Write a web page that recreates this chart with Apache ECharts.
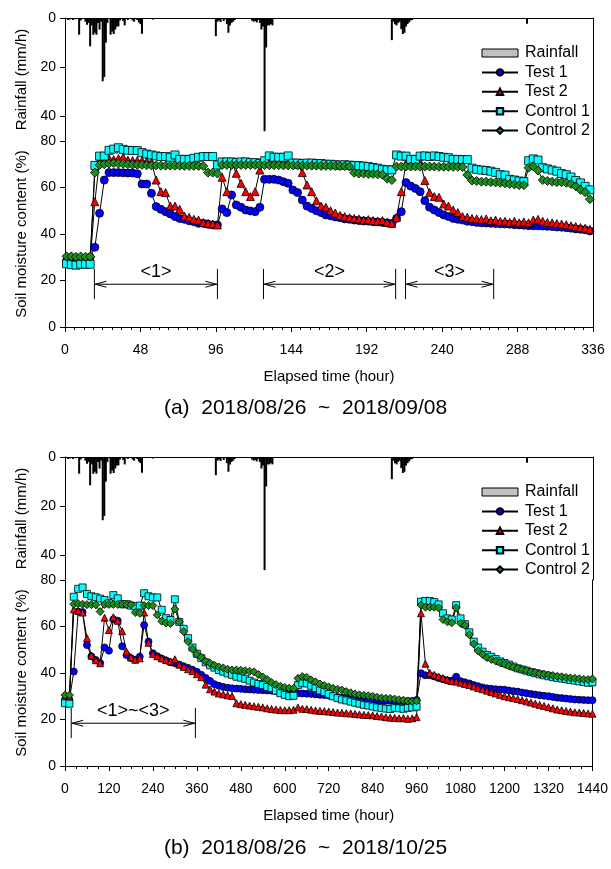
<!DOCTYPE html>
<html>
<head>
<meta charset="utf-8">
<script src="https://cdn.jsdelivr.net/npm/echarts@6/dist/echarts.min.js"></script>
<style>
  html, body { margin: 0; padding: 0; background: #fff; }
  #main { width: 611px; height: 869px; }
</style>
</head>
<body>
<div id="main"></div>
<script>
// rainfall (hourly, mm/h) - same trace drawn on top of both panels
var rainHour = [2, 3, 5, 7, 9, 10, 13, 14, 15, 16, 17, 18, 19, 20, 21, 22, 23, 24, 25, 26, 27, 29, 30, 31, 32, 33, 34, 35, 37, 38, 40, 43, 44, 46, 47, 48, 49, 56,
  96, 97, 98, 99, 101, 103, 104, 105, 106, 107, 108, 119, 120, 121, 122, 123, 124, 125, 126, 127, 128, 129, 130, 131, 132,
  208, 209, 210, 211, 212, 213, 214, 215, 216, 217, 218, 219, 220, 221, 294];
var rainMm = [0.8, 0.6, 0.8, 0.5, 6.8, 1.0, 1.5, 2.7, 2.0, 11.5, 3.0, 6.8, 6.0, 6.8, 2.0, 4.7, 1.5, 25.7, 24.0, 10.0, 2.0, 6.8, 5.5, 6.5, 4.7, 3.5, 3.4, 1.0, 1.2, 3.0, 0.8, 1.0, 1.5, 0.8, 1.8, 2.5, 6.4, 0.6,
  7.4, 1.5, 1.0, 1.6, 1.2, 2.5, 6.0, 3.0, 2.0, 1.5, 0.8, 1.0, 1.5, 1.2, 1.8, 0.8, 2.0, 4.7, 3.5, 46.0, 12.0, 3.0, 3.0, 2.5, 3.0,
  9.0, 1.5, 2.5, 3.0, 2.0, 1.5, 4.5, 6.5, 6.0, 3.5, 2.5, 1.8, 1.0, 0.8, 2.3];

// panel (a): readings every 3 h starting at hour 1
var startA = 1, stepA = 3;
var test1A = [28.5, 28.5, 28.3, 28.5, 28.8, 30.0, 34.3, 48.9, 63.2, 66.4, 66.4, 66.4,
  66.3, 66.2, 66.2, 65.9, 61.5, 61.5, 57.5, 51.8, 50.6, 49.6, 48.6, 47.5,
  46.7, 46.3, 45.7, 45.3, 44.6, 44.6, 44.2, 43.9, 43.9, 50.8, 49.2, 56.8,
  52.5, 51.5, 50.3, 49.9, 49.6, 51.5, 63.5, 63.5, 63.5, 63.2, 62.5, 61.8,
  58.9, 57.8, 54.6, 52.0, 51.0, 50.0, 49.2, 48.2, 47.8, 47.3, 47.0, 46.5,
  46.3, 46.0, 45.8, 45.6, 45.5, 45.3, 45.2, 45.0, 44.8, 44.5, 46.7, 49.6,
  62.1, 60.6, 59.6, 58.2, 54.3, 51.5, 50.3, 49.2, 48.2, 47.5, 46.7, 46.3,
  46.0, 45.5, 45.3, 45.0, 44.8, 44.7, 44.6, 44.5, 44.4, 44.3, 44.2, 44.0,
  43.9, 43.8, 43.6, 43.5, 43.5, 43.4, 43.3, 43.2, 43.0, 42.9, 42.7, 42.5,
  42.2, 42.0, 41.8, 41.3];
var test2A = [28.0, 28.0, 28.2, 28.2, 28.3, 28.5, 53.9, 71.5, 72.3, 72.5, 72.0, 72.5,
  73.0, 71.8, 71.6, 71.6, 71.5, 71.3, 71.0, 63.2, 58.2, 57.8, 52.0, 52.0,
  50.6, 47.7, 47.2, 46.3, 46.0, 44.9, 44.6, 44.3, 43.9, 64.4, 58.2, 70.7,
  66.1, 61.8, 58.2, 56.1, 58.2, 67.5, 70.5, 71.0, 71.0, 71.0, 70.8, 70.5,
  70.5, 70.0, 66.4, 61.1, 58.2, 54.3, 52.0, 51.5, 50.0, 49.0, 48.0, 47.5,
  47.0, 46.7, 46.5, 46.0, 46.2, 45.8, 45.5, 45.8, 45.0, 44.6, 47.2, 58.2,
  70.4, 71.0, 71.0, 71.0, 63.0, 57.8, 56.1, 55.8, 52.9, 52.0, 50.3, 49.2,
  47.5, 47.2, 46.7, 46.5, 46.2, 46.5, 45.7, 46.0, 45.4, 45.5, 45.0, 45.5,
  44.8, 45.2, 44.8, 46.0, 46.3, 45.5, 45.0, 44.8, 44.5, 44.3, 44.0, 43.5,
  43.2, 42.8, 42.5, 42.0];
var control1A = [27.2, 26.8, 26.6, 27.0, 27.0, 27.0, 69.5, 73.5, 73.5, 76.0, 76.5, 77.1,
  76.4, 76.0, 75.9, 75.9, 75.0, 74.4, 74.0, 73.6, 73.3, 73.3, 73.0, 74.0,
  72.1, 72.1, 72.1, 72.6, 73.0, 73.3, 73.3, 73.3, 69.7, 71.0, 71.0, 71.0,
  70.7, 71.0, 71.0, 70.7, 70.7, 70.3, 71.5, 73.6, 73.0, 73.0, 73.0, 73.6,
  70.5, 70.5, 70.3, 70.5, 70.5, 70.3, 70.3, 70.0, 70.0, 69.8, 69.6, 69.8,
  69.6, 69.5, 69.4, 69.2, 69.0, 68.6, 68.3, 67.8, 67.6, 67.6, 74.0, 73.5,
  73.5, 72.1, 72.1, 73.5, 73.6, 73.3, 73.6, 73.3, 73.0, 72.8, 72.1, 72.1,
  72.0, 72.0, 68.3, 67.8, 67.5, 67.3, 67.0, 66.5, 65.5, 65.3, 63.5, 63.2,
  62.8, 62.5, 71.5, 72.3, 71.8, 68.5, 68.0, 67.5, 67.0, 66.0, 65.5, 64.5,
  63.0, 62.0, 60.5, 59.0];
var control2A = [30.4, 30.4, 30.2, 30.3, 30.2, 30.3, 66.4, 69.7, 70.0, 70.3, 70.5, 70.3,
  70.2, 70.0, 69.8, 69.8, 69.7, 69.6, 69.5, 69.5, 69.4, 69.4, 69.4, 69.4,
  69.4, 69.3, 69.3, 69.3, 69.3, 69.2, 66.4, 66.4, 66.0, 69.7, 69.7, 69.7,
  69.7, 69.7, 69.7, 69.7, 69.7, 69.7, 69.6, 69.6, 69.6, 69.6, 69.5, 69.5,
  69.5, 69.5, 69.4, 69.4, 69.4, 69.4, 69.3, 69.3, 69.3, 69.3, 69.2, 69.2,
  69.0, 66.3, 66.0, 66.0, 65.8, 65.8, 65.7, 65.5, 63.8, 63.2, 69.0, 69.0,
  69.0, 69.0, 69.0, 69.0, 69.0, 69.0, 69.0, 68.9, 68.9, 68.9, 68.9, 68.9,
  68.8, 65.4, 63.0, 62.8, 62.5, 62.5, 62.3, 62.2, 62.0, 61.8, 61.5, 61.3,
  61.0, 61.0, 68.5, 69.0, 67.3, 63.2, 62.8, 62.5, 62.3, 62.3, 62.0, 61.5,
  60.5, 59.0, 58.0, 55.0];

// panel (b): readings every 12 h starting at hour 0
var startB = 0, stepB = 12;
var test1B = [28.5, 28.5, 40.6, 66.4, 66.2, 52.0, 47.2, 45.6, 44.3, 51.0, 49.6, 63.1,
  62.5, 51.5, 47.7, 46.4, 45.7, 47.0, 60.6, 53.5, 48.5, 47.2, 46.2, 45.4,
  44.6, 44.2, 43.6, 42.9, 42.2, 41.4, 40.5, 39.2, 37.9, 36.6, 35.2, 34.5,
  34.0, 33.7, 33.4, 33.3, 33.2, 33.0, 32.9, 32.8, 32.7, 32.6, 32.5, 32.4,
  32.2, 31.8, 31.6, 31.4, 31.3, 31.3, 31.2, 31.1, 31.0, 30.8, 30.6, 30.5,
  30.3, 30.0, 29.7, 29.5, 29.3, 29.1, 28.9, 28.7, 28.6, 28.5, 28.4, 28.3,
  28.2, 28.1, 28.1, 28.0, 28.0, 27.9, 27.9, 28.0, 28.4, 39.9, 39.0, 39.0,
  38.5, 37.8, 37.3, 36.8, 36.7, 38.4, 36.5, 36.0, 35.5, 34.8, 34.3, 33.8,
  33.4, 33.2, 33.0, 32.9, 32.8, 32.5, 32.2, 32.0, 31.6, 31.3, 31.0, 30.7,
  30.4, 30.2, 30.0, 29.7, 29.4, 29.2, 29.0, 28.8, 28.6, 28.5, 28.4, 28.3,
  28.3];
var test2B = [29.5, 29.5, 67.4, 66.8, 66.0, 55.0, 47.5, 45.5, 44.2, 63.8, 58.5, 64.0,
  62.5, 58.0, 49.2, 46.8, 45.7, 46.3, 66.0, 53.0, 48.2, 47.2, 46.3, 45.6,
  45.0, 45.9, 43.6, 42.6, 41.6, 40.8, 39.5, 38.2, 35.0, 33.0, 32.0, 31.2,
  30.8, 30.4, 30.1, 27.0, 26.6, 26.3, 26.0, 25.7, 25.5, 25.2, 24.8, 24.5,
  24.3, 24.1, 24.0, 24.0, 24.2, 25.2, 24.6, 24.5, 24.2, 23.9, 23.7, 23.6,
  23.4, 23.2, 23.0, 22.9, 22.7, 22.6, 22.4, 22.2, 22.0, 21.9, 21.8, 21.5,
  21.3, 21.0, 20.8, 20.7, 20.5, 20.6, 20.3, 20.5, 21.0, 65.7, 44.0, 40.0,
  39.2, 38.5, 37.8, 37.2, 36.5, 36.3, 35.8, 35.3, 34.8, 34.2, 33.6, 33.0,
  32.4, 31.8, 31.2, 30.6, 30.0, 29.6, 29.2, 28.8, 28.3, 27.8, 27.3, 26.8,
  26.3, 25.8, 25.3, 24.8, 24.3, 24.0, 23.7, 23.4, 23.1, 23.0, 22.8, 22.6,
  22.5];
var control1B = [27.0, 26.8, 72.8, 76.2, 76.8, 74.0, 73.0, 72.6, 72.0, 71.4, 70.0, 73.5,
  72.1, 69.6, 69.6, 69.0, 68.7, 69.0, 74.3, 73.0, 72.5, 72.5, 67.2, 63.6,
  62.8, 71.7, 62.0, 59.0, 55.0, 51.0, 48.3, 46.4, 44.6, 43.3, 42.3, 41.3,
  40.6, 39.8, 39.2, 38.4, 38.0, 37.5, 36.7, 35.9, 35.3, 34.8, 34.0, 33.5,
  32.4, 31.3, 30.6, 30.0, 30.2, 34.8, 35.6, 35.5, 34.5, 33.5, 32.5, 31.8,
  31.0, 30.0, 29.2, 28.6, 28.2, 27.7, 27.2, 26.8, 26.3, 26.0, 25.6, 25.2,
  25.0, 24.7, 24.5, 25.0, 24.8, 24.6, 25.0, 25.2, 25.5, 70.7, 71.0, 71.0,
  70.5, 69.5, 65.7, 63.5, 63.0, 69.2, 63.5, 61.0, 57.5, 53.5, 51.0, 49.2,
  47.8, 47.0, 46.0, 45.0, 44.3, 43.6, 42.8, 42.0, 41.5, 41.0, 40.4, 39.9,
  39.4, 39.0, 38.6, 38.2, 37.9, 37.6, 37.3, 37.0, 36.7, 36.4, 36.1, 35.8,
  36.0];
var control2B = [30.5, 30.5, 69.6, 69.8, 69.6, 69.4, 69.4, 69.3, 66.4, 69.5, 69.5, 69.5,
  69.5, 69.5, 69.4, 69.4, 66.0, 65.7, 69.0, 69.0, 69.0, 65.0, 62.3, 61.5,
  61.3, 67.5, 62.0, 57.8, 53.5, 50.3, 48.0, 46.8, 45.0, 44.2, 43.3, 42.6,
  42.2, 41.6, 41.3, 41.3, 41.2, 41.0, 40.7, 40.5, 39.4, 38.3, 37.2, 35.9,
  35.0, 34.3, 33.8, 33.5, 33.4, 37.7, 38.5, 38.1, 37.0, 36.2, 35.3, 34.6,
  34.0, 33.4, 33.0, 32.7, 32.0, 31.5, 31.0, 30.6, 30.4, 30.2, 30.0, 29.6,
  29.3, 29.1, 29.0, 28.8, 28.5, 28.3, 28.0, 27.8, 28.0, 69.2, 68.3, 68.3,
  68.3, 68.0, 63.0, 62.0, 61.6, 68.0, 61.4, 60.5, 56.5, 52.5, 49.5, 48.0,
  46.6, 45.8, 45.2, 44.4, 43.8, 43.0, 42.5, 42.0, 41.5, 41.0, 40.5, 40.2,
  39.8, 39.5, 39.2, 38.9, 38.6, 38.4, 38.1, 37.9, 37.7, 37.5, 37.3, 37.2,
  37.5];

// analysis periods marked under the curves (hours)
var spanStartA = [18.7, 126.3, 216.7];
var spanEndA = [97, 210.4, 272.8];
var spanLabelA = ['<1>', '<2>', '<3>'];
var spanStartB = [17];
var spanEndB = [356];
var spanLabelB = ['<1>~<3>'];
var arrowLevel = 18.4, tickTop = 25, tickBottom = 12, labelLevel = 23.8;

var seriesNames = ['Rainfall', 'Test 1', 'Test 2', 'Control 1', 'Control 2'];
var captionA = '(a)  2018/08/26  ~  2018/09/08';
var captionB = '(b)  2018/08/26  ~  2018/10/25';

var FONT = '"Liberation Sans", Arial, sans-serif';
var chart = echarts.init(document.getElementById('main'));

function pairs(start, step, vals) {
  return vals.map(function (v, i) { return [start + step * i, v]; });
}
function plain(v) { return String(v); }

function rainX(gi) {
  return {
    gridIndex: gi, type: 'value', min: 0, max: 336, position: 'top',
    axisLine: { show: true, lineStyle: { color: '#000', width: 1 } },
    axisTick: { show: false }, axisLabel: { show: false }, splitLine: { show: false }
  };
}
function timeX(gi, max, interval, minorSplit) {
  return {
    gridIndex: gi, type: 'value', min: 0, max: max, interval: interval,
    name: 'Elapsed time (hour)', nameLocation: 'middle', nameGap: 42,
    nameTextStyle: { color: '#000', fontSize: 15, fontFamily: FONT },
    axisLine: { show: true, lineStyle: { color: '#000', width: 1 } },
    axisTick: { show: true, length: 5, lineStyle: { color: '#000' } },
    minorTick: { show: true, splitNumber: minorSplit, length: 3, lineStyle: { color: '#000' } },
    axisLabel: { color: '#000', fontSize: 14, fontFamily: FONT, margin: 16, formatter: plain },
    splitLine: { show: false }
  };
}
function rainY(gi) {
  return {
    gridIndex: gi, type: 'value', min: 0, max: 50, interval: 20, inverse: true,
    name: 'Rainfall (mm/h)', nameLocation: 'middle', nameGap: 36,
    nameTextStyle: { color: '#000', fontSize: 15, fontFamily: FONT },
    axisLine: { show: true, lineStyle: { color: '#000', width: 1 } },
    axisTick: { show: true, length: 5, lineStyle: { color: '#000' } },
    axisLabel: { color: '#000', fontSize: 14, fontFamily: FONT, margin: 9, showMaxLabel: false },
    splitLine: { show: false }
  };
}
function moistY(gi) {
  return {
    gridIndex: gi, type: 'value', min: 0, max: 80, interval: 20,
    name: 'Soil moisture content (%)', nameLocation: 'middle', nameGap: 36,
    nameTextStyle: { color: '#000', fontSize: 15, fontFamily: FONT },
    axisLine: { show: true, lineStyle: { color: '#000', width: 1 } },
    axisTick: { show: true, length: 5, lineStyle: { color: '#000' } },
    axisLabel: { color: '#000', fontSize: 14, fontFamily: FONT, margin: 9 },
    splitLine: { show: false }
  };
}
function borderY(gi) {
  return {
    gridIndex: gi, type: 'value', position: 'right', min: 0, max: 1,
    axisLine: { show: true, lineStyle: { color: '#000', width: 1 } },
    axisTick: { show: false }, axisLabel: { show: false }, splitLine: { show: false }
  };
}

function rainSeries(xi, yi) {
  return {
    name: 'Rainfall', type: 'bar', xAxisIndex: xi, yAxisIndex: yi,
    data: rainHour.map(function (h, i) { return [h, rainMm[i]]; }),
    barWidth: 2, itemStyle: { color: '#000' }, silent: true
  };
}
function moistSeries(name, xi, yi, data, symbol, color, size) {
  return {
    name: name, type: 'line', xAxisIndex: xi, yAxisIndex: yi, data: data,
    symbol: symbol, symbolSize: size, showSymbol: true, showAllSymbol: true,
    lineStyle: { color: '#000', width: 1 },
    itemStyle: { color: color, borderColor: '#000', borderWidth: 0.8 },
    silent: true
  };
}
function spanSeries(xi, yi, starts, ends, labels) {
  return {
    type: 'custom', xAxisIndex: xi, yAxisIndex: yi, silent: true, z: 5,
    encode: { x: [0, 1], y: 2 },
    data: starts.map(function (s, i) { return [s, ends[i], arrowLevel]; }),
    renderItem: function (params, api) {
      var a = api.coord([api.value(0), api.value(2)]);
      var b = api.coord([api.value(1), api.value(2)]);
      var top = api.coord([api.value(0), tickTop])[1];
      var bot = api.coord([api.value(0), tickBottom])[1];
      var ty = api.coord([api.value(0), labelLevel])[1];
      var st = { stroke: '#000', lineWidth: 1, fill: null };
      return {
        type: 'group',
        children: [
          { type: 'line', shape: { x1: a[0], y1: top, x2: a[0], y2: bot }, style: st },
          { type: 'line', shape: { x1: b[0], y1: top, x2: b[0], y2: bot }, style: st },
          { type: 'line', shape: { x1: a[0], y1: a[1], x2: b[0], y2: b[1] }, style: st },
          { type: 'polyline', shape: { points: [[a[0] + 12, a[1] - 3], [a[0] + 1, a[1]], [a[0] + 12, a[1] + 3]] }, style: st },
          { type: 'polyline', shape: { points: [[b[0] - 12, b[1] - 3], [b[0] - 1, b[1]], [b[0] - 12, b[1] + 3]] }, style: st },
          {
            type: 'text', x: (a[0] + b[0]) / 2, y: ty,
            style: { text: labels[params.dataIndex], fill: '#000', fontSize: 18, fontFamily: FONT, align: 'center', verticalAlign: 'middle' }
          }
        ]
      };
    }
  };
}
function legendAt(top) {
  return {
    orient: 'vertical', left: 476, top: top, itemWidth: 36, itemHeight: 8, itemGap: 3.4,
    selectedMode: false,
    textStyle: { color: '#000', fontSize: 16, fontFamily: FONT, padding: [0, 0, 0, 2] },
    data: [
      { name: seriesNames[0], icon: 'rect', itemStyle: { color: '#c0c0c0', borderColor: '#000', borderWidth: 1 } },
      seriesNames[1], seriesNames[2], seriesNames[3], seriesNames[4]
    ]
  };
}

var option = {
  animation: false,
  backgroundColor: '#fff',
  title: [
    { text: captionA, left: 'center', top: 398, padding: 0, textStyle: { color: '#000', fontSize: 21, fontWeight: 'normal', fontFamily: FONT } },
    { text: captionB, left: 'center', top: 838, padding: 0, textStyle: { color: '#000', fontSize: 21, fontWeight: 'normal', fontFamily: FONT } }
  ],
  legend: [legendAt(40), legendAt(479)],
  grid: [
    { left: 65, top: 18, width: 528, height: 123 },
    { left: 65, top: 141, width: 528, height: 186 },
    { left: 65, top: 457, width: 528, height: 123 },
    { left: 65, top: 580, width: 528, height: 186 }
  ],
  xAxis: [rainX(0), timeX(1, 336, 48, 8), rainX(2), timeX(3, 1440, 120, 4)],
  yAxis: [rainY(0), borderY(0), moistY(1), borderY(1), rainY(2), borderY(2), moistY(3), borderY(3)],
  series: [
    rainSeries(0, 0),
    moistSeries(seriesNames[1], 1, 2, pairs(startA, stepA, test1A), 'circle', '#0000ff', 8),
    moistSeries(seriesNames[2], 1, 2, pairs(startA, stepA, test2A), 'triangle', '#ff0000', 8),
    moistSeries(seriesNames[3], 1, 2, pairs(startA, stepA, control1A), 'rect', '#00ffff', 8),
    moistSeries(seriesNames[4], 1, 2, pairs(startA, stepA, control2A), 'diamond', '#1e8c1e', 9),
    spanSeries(1, 2, spanStartA, spanEndA, spanLabelA),
    rainSeries(2, 4),
    moistSeries(seriesNames[1], 3, 6, pairs(startB, stepB, test1B), 'circle', '#0000ff', 7),
    moistSeries(seriesNames[2], 3, 6, pairs(startB, stepB, test2B), 'triangle', '#ff0000', 7),
    moistSeries(seriesNames[3], 3, 6, pairs(startB, stepB, control1B), 'rect', '#00ffff', 7),
    moistSeries(seriesNames[4], 3, 6, pairs(startB, stepB, control2B), 'diamond', '#1e8c1e', 8),
    spanSeries(3, 6, spanStartB, spanEndB, spanLabelB)
  ]
};
chart.setOption(option);
</script>
</body>
</html>
